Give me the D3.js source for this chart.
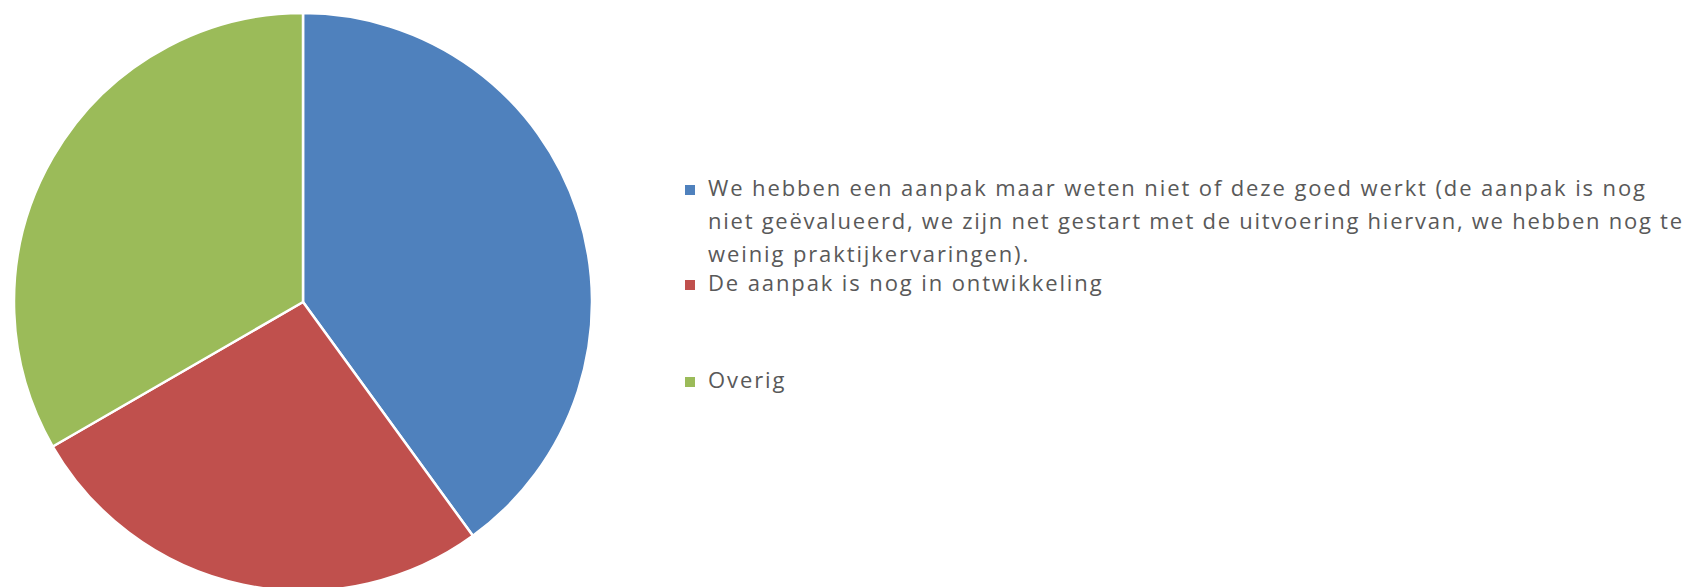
<!DOCTYPE html>
<html>
<head>
<meta charset="utf-8">
<script src="https://cdn.jsdelivr.net/npm/d3@7"></script>
<style>
  html, body { margin: 0; padding: 0; background: #ffffff; }
  svg { display: block; }
</style>
</head>
<body>
<svg id="chart" width="1693" height="587"></svg>
<script>
// ---- data ----
const categories = [
  "We hebben een aanpak maar weten niet of deze goed werkt (de aanpak is nog niet geëvalueerd, we zijn net gestart met de uitvoering hiervan, we hebben nog te weinig praktijkervaringen).",
  "De aanpak is nog in ontwikkeling",
  "Overig"
];
const values = [12, 8, 10];
const colors = ["#4F81BD", "#C0504D", "#9BBB59"];
// legend lines as wrapped in the reference
const legendLines = [
  ["We hebben een aanpak maar weten niet of deze goed werkt (de aanpak is nog",
   "niet geëvalueerd, we zijn net gestart met de uitvoering hiervan, we hebben nog te",
   "weinig praktijkervaringen)."],
  ["De aanpak is nog in ontwikkeling"],
  ["Overig"]
];

// ---- layout ----
const svg = d3.select("#chart");
const cx = 303, cy = 302, r = 289;

const pie = d3.pie().sort(null).value(d => d)(values);
const arc = d3.arc().innerRadius(0).outerRadius(r);

svg.append("g")
  .attr("transform", `translate(${cx},${cy})`)
  .selectAll("path")
  .data(pie)
  .join("path")
  .attr("d", arc)
  .attr("fill", (d, i) => colors[i])
  .attr("stroke", "#ffffff")
  .attr("stroke-width", 2.5)
  .attr("stroke-linejoin", "round");

// legend
const fontFamily = "'Open Sans', 'Noto Sans', sans-serif";
const fontSize = 22;
const textX = 708;
const squareX = 685, squareSize = 10;
const lineGap = 33.2;
const itemBaselines = [196, 291, 388];
// measured widths of the two full legend lines in the reference
const lineTargets = { "0-0": 937, "0-1": 974 };

const lg = svg.append("g");

const probe = lg.append("text")
  .attr("font-family", fontFamily)
  .attr("font-size", fontSize)
  .text(legendLines[0][0]);
const natural = probe.node().getComputedTextLength();
probe.remove();
const ls = (lineTargets["0-0"] - natural) / (legendLines[0][0].length - 1);

legendLines.forEach((lines, i) => {
  const by = itemBaselines[i];
  lg.append("rect")
    .attr("x", squareX)
    .attr("y", by - 11)
    .attr("width", squareSize)
    .attr("height", squareSize)
    .attr("fill", colors[i]);
  lines.forEach((ln, j) => {
    const t = lg.append("text")
      .attr("x", textX)
      .attr("y", by + j * lineGap)
      .attr("font-family", fontFamily)
      .attr("font-size", fontSize)
      .attr("fill", "#595959")
      .text(ln);
    const key = i + "-" + j;
    if (lineTargets[key]) {
      t.attr("textLength", lineTargets[key]).attr("lengthAdjust", "spacing");
    } else {
      t.style("letter-spacing", ls + "px");
    }
  });
});
</script>
</body>
</html>
